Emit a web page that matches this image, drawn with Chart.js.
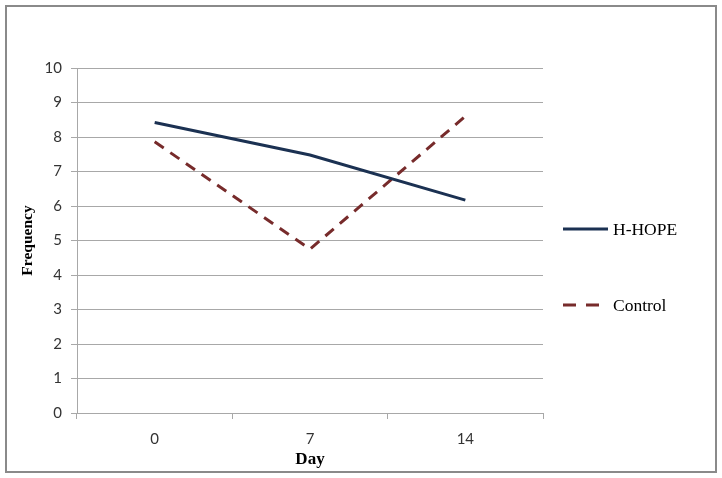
<!DOCTYPE html>
<html>
<head>
<meta charset="utf-8">
<script src="https://cdn.jsdelivr.net/npm/chart.js@4"></script>
<style>
  html, body { margin: 0; padding: 0; background: #fff; }
  #wrap { position: relative; width: 722px; height: 478px; }
</style>
</head>
<body>
<div id="wrap"><canvas id="chart" width="722" height="478"></canvas></div>
<script>
// Values
const days      = ['0', '7', '14'];
const hopeData  = [8.42, 7.48, 6.17];
const ctrlData  = [7.86, 4.75, 8.6];
const yTicks    = [0, 1, 2, 3, 4, 5, 6, 7, 8, 9, 10];

const HOPE_COLOR = '#1b3152';
const CTRL_COLOR = '#772b2b';
const GRID_COLOR = '#a8a8a8';
const TICK_FONT  = { family: 'Lato, "Liberation Sans", sans-serif', size: 15 };
const SERIF      = '"Liberation Serif", "Times New Roman", serif';

/** Outer frame round the whole chart, like the Excel chart border */
const framePlugin = {
  id: 'frame',
  beforeDraw(chart) {
    const ctx = chart.ctx;
    ctx.save();
    ctx.fillStyle = '#fff';
    ctx.fillRect(0, 0, chart.width, chart.height);
    ctx.strokeStyle = '#8a8a8a';
    ctx.lineWidth = 2;
    ctx.strokeRect(6, 6, chart.width - 12, chart.height - 12);
    ctx.restore();
  }
};

/** Legend on the right with wide spacing between the two entries */
const sideLegend = {
  id: 'sideLegend',
  afterDraw(chart) {
    const ctx = chart.ctx;
    const x0 = chart.chartArea.right + 20;
    const rows = [229, 305];
    ctx.save();
    chart.data.datasets.forEach((ds, i) => {
      const y = rows[i];
      const len = ds.borderDash ? 37 : 45;
      ctx.strokeStyle = ds.borderColor;
      ctx.lineWidth = 3;
      ctx.setLineDash(ds.borderDash ? [13, 10] : []);
      ctx.beginPath();
      ctx.moveTo(x0, y);
      ctx.lineTo(x0 + len, y);
      ctx.stroke();
      ctx.setLineDash([]);
      ctx.fillStyle = '#000';
      ctx.font = '17.5px ' + SERIF;
      ctx.textBaseline = 'middle';
      ctx.fillText(ds.label, x0 + 50, y + 1);
    });
    ctx.restore();
  }
};

new Chart(document.getElementById('chart'), {
  type: 'line',
  data: {
    labels: days,
    datasets: [
      {
        label: 'H-HOPE',
        data: hopeData,
        borderColor: HOPE_COLOR,
        backgroundColor: HOPE_COLOR,
        borderWidth: 3,
        pointRadius: 0,
        tension: 0
      },
      {
        label: 'Control',
        data: ctrlData,
        borderColor: CTRL_COLOR,
        backgroundColor: CTRL_COLOR,
        borderWidth: 3,
        borderDash: [11, 8],
        pointRadius: 0,
        tension: 0
      }
    ]
  },
  options: {
    responsive: false,
    animation: false,
    layout: { padding: { left: 0, right: 179, top: 68, bottom: 10 } },
    plugins: {
      legend: { display: false },
      tooltip: { enabled: false }
    },
    scales: {
      x: {
        offset: true,
        afterFit: s => { s.height = 55; },
        grid: {
          offset: true,
          drawOnChartArea: false,
          drawTicks: true,
          tickLength: 6,
          color: GRID_COLOR
        },
        border: { color: GRID_COLOR, width: 1 },
        ticks: { font: TICK_FONT, color: '#333', padding: 11, maxRotation: 0 },
        title: {
          display: true,
          text: 'Day',
          color: '#000',
          font: { family: SERIF, size: 17, weight: 'bold', lineHeight: 1 },
          padding: { top: 0, bottom: 0 }
        }
      },
      y: {
        min: 0,
        max: 10,
        afterFit: s => { s.width = 77; },
        afterBuildTicks: s => { s.ticks = yTicks.map(v => ({ value: v })); },
        grid: { color: GRID_COLOR, tickLength: 6, lineWidth: 1 },
        border: { color: GRID_COLOR, width: 1 },
        ticks: { font: TICK_FONT, color: '#333', padding: 9 },
        title: {
          display: true,
          text: 'Frequency',
          color: '#000',
          font: { family: SERIF, size: 15.5, weight: 'bold', lineHeight: 1 },
          padding: { top: 20, bottom: 0 }
        }
      }
    }
  },
  plugins: [framePlugin, sideLegend]
});
</script>
</body>
</html>
